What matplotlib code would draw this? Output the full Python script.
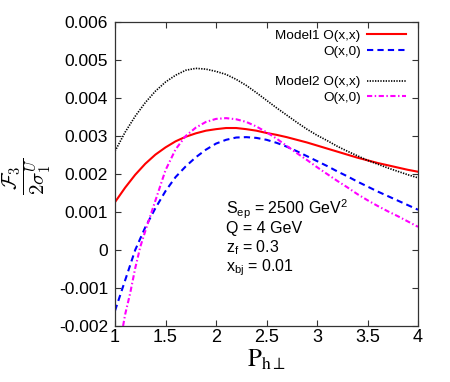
import matplotlib
matplotlib.use("Agg")
import matplotlib.pyplot as plt
import numpy as np

plt.rcParams['font.family'] = ['Liberation Sans', 'DejaVu Sans']
plt.rcParams['mathtext.fontset'] = 'custom'
plt.rcParams['mathtext.rm'] = 'Liberation Sans'
plt.rcParams['mathtext.it'] = 'Liberation Sans:italic'
plt.rcParams['mathtext.bf'] = 'Liberation Sans:bold'

# ---- data ----
p_grid = [1.0, 1.1, 1.2, 1.3, 1.4, 1.5, 1.6, 1.7, 1.8, 1.9, 2.0, 2.1, 2.2, 2.3,
          2.4, 2.5, 2.6, 2.7, 2.8, 2.9, 3.0, 3.1, 3.2, 3.3, 3.4, 3.5, 3.6,
          3.7, 3.8, 3.9, 4.0]

model1_oxx = [0.00126, 0.00164, 0.00198, 0.00227, 0.00251, 0.00270, 0.00286,
              0.00298, 0.00307, 0.00314, 0.00318, 0.00321, 0.00321, 0.00318,
              0.00314, 0.00308, 0.00303, 0.00297, 0.00290, 0.00283, 0.00275,
              0.00267, 0.00259, 0.00251, 0.00243, 0.00236, 0.00229, 0.00223,
              0.00217, 0.00211, 0.00206]

p_blue = [1.0, 1.05, 1.1, 1.15, 1.2, 1.3, 1.4, 1.5, 1.6, 1.7, 1.8, 1.9, 2.0,
          2.1, 2.2, 2.3, 2.4, 2.5, 2.6, 2.7, 2.8, 2.9, 3.0, 3.1, 3.2, 3.3,
          3.4, 3.5, 3.6, 3.7, 3.8, 3.9, 4.0]
model1_ox0 = [-0.00160, -0.00120, -0.00080, -0.00040, 0.00000, 0.00060,
              0.00110, 0.00155, 0.00192, 0.00220, 0.00244, 0.00264, 0.00280,
              0.00290, 0.00296, 0.00297, 0.00295, 0.00290, 0.00282, 0.00272,
              0.00260, 0.00247, 0.00234, 0.00221, 0.00207, 0.00194, 0.00180,
              0.00167, 0.00154, 0.00142, 0.00130, 0.00118, 0.00106]

model2_oxx = [0.00260, 0.00310, 0.00352, 0.00388, 0.00418, 0.00442, 0.00460,
              0.00473, 0.00478, 0.00476, 0.00470, 0.00462, 0.00449, 0.00433,
              0.00414, 0.00394, 0.00374, 0.00355, 0.00336, 0.00318, 0.00302,
              0.00288, 0.00273, 0.00260, 0.00248, 0.00236, 0.00226, 0.00216,
              0.00207, 0.00198, 0.00190]

p_mag = [1.08, 1.1, 1.15, 1.2, 1.25, 1.3, 1.35, 1.4, 1.5, 1.6, 1.7, 1.8, 1.9,
         2.0, 2.1, 2.2, 2.3, 2.4, 2.5, 2.6, 2.7, 2.8, 2.9, 3.0, 3.1, 3.2,
         3.3, 3.4, 3.5, 3.6, 3.7, 3.8, 3.9, 4.0]
model2_ox0 = [-0.00200, -0.00170, -0.00114, -0.00048, 0.00008, 0.00050,
              0.00090, 0.00130, 0.00210, 0.00265, 0.00300, 0.00322, 0.00337,
              0.00345, 0.00347, 0.00344, 0.00337, 0.00325, 0.00310, 0.00293,
              0.00274, 0.00255, 0.00237, 0.00218, 0.00200, 0.00182, 0.00165,
              0.00147, 0.00131, 0.00116, 0.00102, 0.00089, 0.00075, 0.00061]

x_ticks = [1, 1.5, 2, 2.5, 3, 3.5, 4]
x_ticklabels = ['1', '1.5', '2', '2.5', '3', '3.5', '4']
y_ticks = [-0.002, -0.001, 0, 0.001, 0.002, 0.003, 0.004, 0.005, 0.006]
y_ticklabels = ['-0.002', '-0.001', '0', '0.001', '0.002', '0.003', '0.004',
                '0.005', '0.006']

labels1 = ['Model1 O(x,x)', 'O(x,0)']
labels2 = ['Model2 O(x,x)', 'O(x,0)']
info_lines = [r'S$_{\rm ep}$ = 2500 GeV$^{2}$', 'Q = 4 GeV',
              r'z$_{\rm f}$ = 0.3', r'x$_{\rm bj}$ = 0.01']

# ---- figure ----
fig = plt.figure(figsize=(4.5, 3.82), dpi=100)
ax = fig.add_axes([115/450, 1-326/382, 303/450, 304/382])

l1, = ax.plot(p_grid, model1_oxx, color='#ff0000', lw=1.5, ls='-')
l2, = ax.plot(p_blue, model1_ox0, color='#0000ff', lw=1.5, ls=(0, (3, 2)))
l3, = ax.plot(p_grid, model2_oxx, color='#000000', lw=1.2, ls=(0, (0.8, 0.8)))
l4, = ax.plot(p_mag, model2_ox0, color='#ff00ff', lw=1.5,
              ls=(0, (2.5, 1.2, 0.7, 1.2)))

ax.set_xlim(1, 4)
ax.set_ylim(-0.002, 0.006)
ax.set_xticks(x_ticks)
ax.set_xticklabels(x_ticklabels, fontsize=13)
ax.set_yticks(y_ticks)
ax.set_yticklabels(y_ticklabels, fontsize=12.5)
ax.tick_params(direction='in', length=4.5, width=0.8, top=True, right=True,
               color='#333333')
ax.tick_params(axis='x', pad=2.5)
ax.tick_params(axis='y', pad=5)
for s in ax.spines.values():
    s.set_linewidth(0.9)
    s.set_color('#333333')

leg1 = ax.legend([l1, l2], labels1, loc='upper right',
                 bbox_to_anchor=(0.962, 0.975), frameon=False, fontsize=9.7,
                 markerfirst=False, handlelength=2.9, handletextpad=0.5,
                 borderpad=0, borderaxespad=0, labelspacing=0.25)
ax.add_artist(leg1)
leg2 = ax.legend([l3, l4], labels2, loc='upper right',
                 bbox_to_anchor=(0.962, 0.823), frameon=False, fontsize=9.7,
                 markerfirst=False, handlelength=2.9, handletextpad=0.5,
                 borderpad=0, borderaxespad=0, labelspacing=0.25)

baselines = [214, 233, 252, 271]
for txt, yb in zip(info_lines, baselines):
    fig.text(226/450, 1-yb/382, txt, fontsize=11.5, ha='left', va='baseline')

fig.text(27/450, 1-176/382, r'$\dfrac{\mathcal{F}_3}{2\sigma_1^U}$',
         rotation=90, ha='center', va='center', fontsize=15,
         math_fontfamily='cm')
fig.text(266/450, 1-367/382, r'$\mathrm{P}_{\mathrm{h}\perp}$',
         ha='center', va='baseline', fontsize=18, math_fontfamily='stix')

fig.savefig('out.png', dpi=100)
